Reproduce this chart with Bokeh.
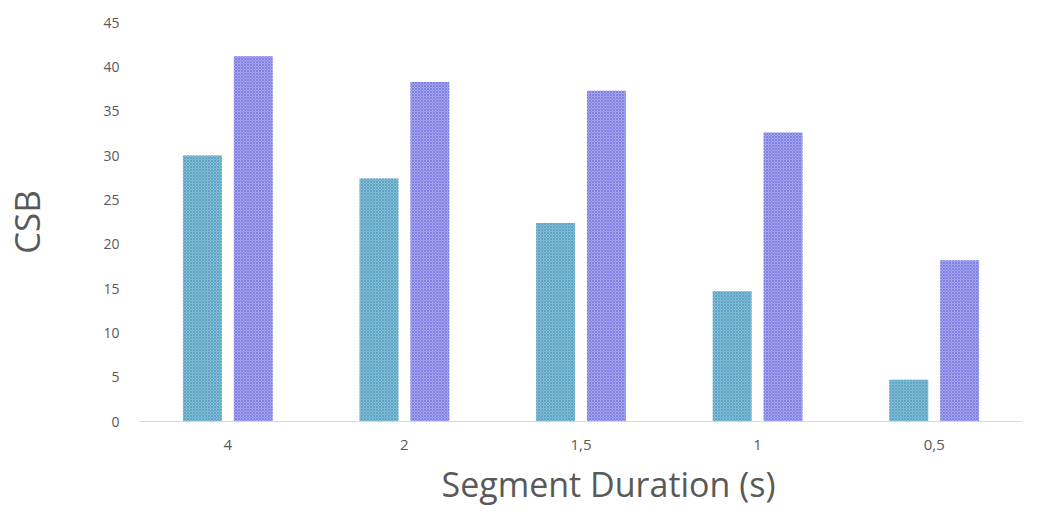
from bokeh.plotting import figure
from bokeh.models import ColumnDataSource, FactorRange, Range1d, FixedTicker, Title
from bokeh.transform import dodge
from bokeh.embed import file_html
from bokeh.resources import INLINE

categories = ["4", "2", "1,5", "1", "0,5"]
series_a = [30.0, 27.4, 22.4, 14.7, 4.7]
series_b = [41.2, 38.3, 37.3, 32.6, 18.2]
y_ticks = [0, 5, 10, 15, 20, 25, 30, 35, 40, 45]

source = ColumnDataSource(data=dict(cat=categories, a=series_a, b=series_b))

FONT = "Open Sans"
GREY = "#595959"

p = figure(
    x_range=FactorRange(*categories, range_padding=0),
    y_range=Range1d(0, 45),
    width=1022, height=512,
    output_backend="svg", toolbar_location=None,
    min_border_left=138, min_border_right=0,
    min_border_top=22, min_border_bottom=91,
)

p.vbar(x=dodge("cat", -0.144, range=p.x_range), top="a", width=0.22, source=source,
       fill_color="#86bcd4", line_color=None,
       hatch_pattern="diagonal_cross", hatch_color="#3f96bd", hatch_alpha=0.6,
       hatch_scale=3, hatch_weight=1)
p.vbar(x=dodge("cat", 0.144, range=p.x_range), top="b", width=0.22, source=source,
       fill_color="#a6a6ee", line_color=None,
       hatch_pattern="diagonal_cross", hatch_color="#6060da", hatch_alpha=0.55,
       hatch_scale=3, hatch_weight=1)

p.outline_line_color = None
p.xgrid.visible = False
p.ygrid.visible = False

p.yaxis.ticker = FixedTicker(ticks=y_ticks)
p.yaxis.axis_line_color = None
p.yaxis.major_tick_line_color = None
p.yaxis.minor_tick_line_color = None
p.yaxis.major_label_standoff = 14
p.yaxis.major_label_text_font = FONT
p.yaxis.major_label_text_font_size = "14px"
p.yaxis.major_label_text_color = GREY
p.yaxis.axis_label = "CSB"
p.yaxis.axis_label_text_font = FONT
p.yaxis.axis_label_text_font_size = "35px"
p.yaxis.axis_label_text_font_style = "normal"
p.yaxis.axis_label_text_color = GREY
p.yaxis.axis_label_standoff = 50

p.xaxis.axis_line_color = "#d9d9d9"
p.xaxis.axis_line_width = 1
p.xaxis.major_tick_line_color = None
p.xaxis.minor_tick_line_color = None
p.xaxis.major_label_standoff = 12
p.xaxis.major_label_text_font = FONT
p.xaxis.major_label_text_font_size = "15px"
p.xaxis.major_label_text_color = GREY

x_title = Title(
    text="Segment Duration (s)", align="left", offset=302,
    vertical_align="bottom", standoff=12,
    text_font=FONT, text_font_size="34px", text_font_style="normal",
    text_color=GREY,
)
p.add_layout(x_title, "below")

open("out.html", "w").write(file_html(p, INLINE))
